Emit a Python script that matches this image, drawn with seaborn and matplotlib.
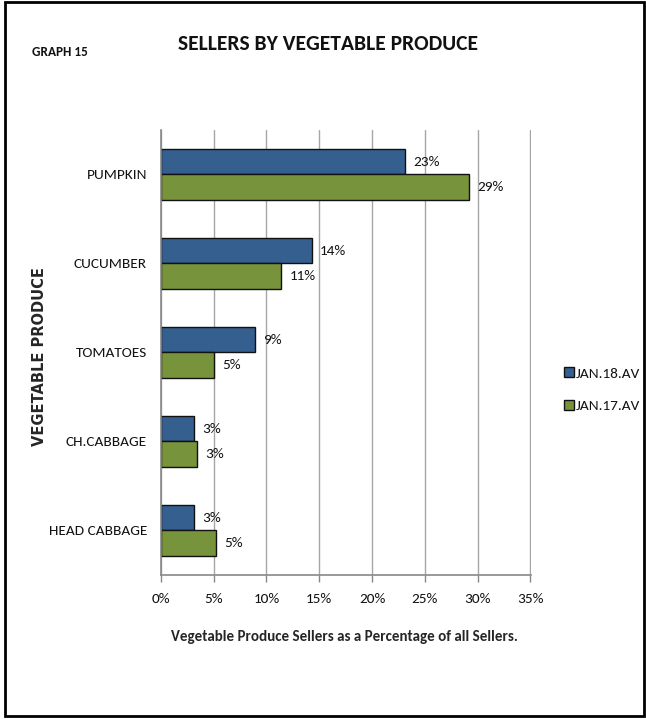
import pandas as pd
import seaborn as sns
import matplotlib.pyplot as plt
from matplotlib.patches import Rectangle
from matplotlib.ticker import FuncFormatter

categories = ["PUMPKIN", "CUCUMBER", "TOMATOES", "CH.CABBAGE", "HEAD CABBAGE"]
jan18 = [23.1, 14.3, 8.9, 3.1, 3.1]
jan17 = [29.2, 11.4, 5.0, 3.4, 5.2]
series = ["JAN.18.AV", "JAN.17.AV"]
colors = ["#355F8F", "#77933C"]
xticks = [0, 5, 10, 15, 20, 25, 30, 35]

df = pd.DataFrame({
    "produce": categories * 2,
    "pct": jan18 + jan17,
    "series": [series[0]] * len(categories) + [series[1]] * len(categories),
})

sns.set_style("white")
plt.rcParams["font.family"] = ["Carlito", "DejaVu Sans"]
plt.rcParams["text.color"] = "#111111"

fig = plt.figure(figsize=(6.46, 7.19), dpi=100)
ax = fig.add_axes([0.249, 0.2003, 0.573, 0.619])

sns.barplot(
    data=df, y="produce", x="pct", hue="series",
    order=categories, hue_order=series, palette=colors,
    width=0.58, orient="h", edgecolor="#111111", linewidth=1.0,
    saturation=1, legend=False, ax=ax,
)

for cont, vals in zip(ax.containers, [jan18, jan17]):
    ax.bar_label(cont, labels=[f"{round(v)}%" for v in vals],
                 padding=6, fontsize=11, color="#111111")

ax.set_xlim(0, 35.05)
ax.set_xticks(xticks)
ax.xaxis.set_major_formatter(FuncFormatter(lambda v, p: f"{int(v)}%"))
ax.grid(axis="x", color="#a6a6a6", linewidth=1)
ax.set_axisbelow(True)
for s in ["top", "right"]:
    ax.spines[s].set_visible(False)
for s in ["left", "bottom"]:
    ax.spines[s].set_color("#888888")
    ax.spines[s].set_linewidth(1.2)
ax.tick_params(axis="x", length=5, width=1, color="#888888",
               labelsize=11, pad=8, bottom=True, labelcolor="#111111")
ax.tick_params(axis="y", length=0, labelsize=11, pad=10, labelcolor="#111111")

ax.set_ylabel("VEGETABLE PRODUCE", fontsize=10.5, fontweight="bold",
              family="DejaVu Sans", va="center")
ax.yaxis.set_label_coords(-0.327, 0.49)
ax.set_xlabel("Vegetable Produce Sellers as a Percentage of all Sellers.",
              fontsize=10.8, fontweight="bold", va="center")
ax.xaxis.set_label_coords(0.497, -0.139)

fig.text(0.508, 0.939, "SELLERS BY VEGETABLE PRODUCE", ha="center",
         va="center", fontsize=15.5, fontweight="bold")
fig.text(0.05, 0.928, "GRAPH 15", ha="left", va="center",
         fontsize=9.5, fontweight="bold")

handles = [plt.Line2D([], [], marker="s", linestyle="", markersize=7.5,
                      markerfacecolor=c, markeredgecolor="#111111")
           for c in colors]
fig.legend(handles, series, loc="center left", bbox_to_anchor=(0.873, 0.458),
           frameon=False, fontsize=11, handletextpad=0.15, labelspacing=1.3,
           handlelength=0.6, borderpad=0, borderaxespad=0)

fig.patches.append(Rectangle((0.007, 0.004), 0.99, 0.993,
                             transform=fig.transFigure, fill=False,
                             edgecolor="black", linewidth=2))

fig.savefig("out.png", dpi=100)
